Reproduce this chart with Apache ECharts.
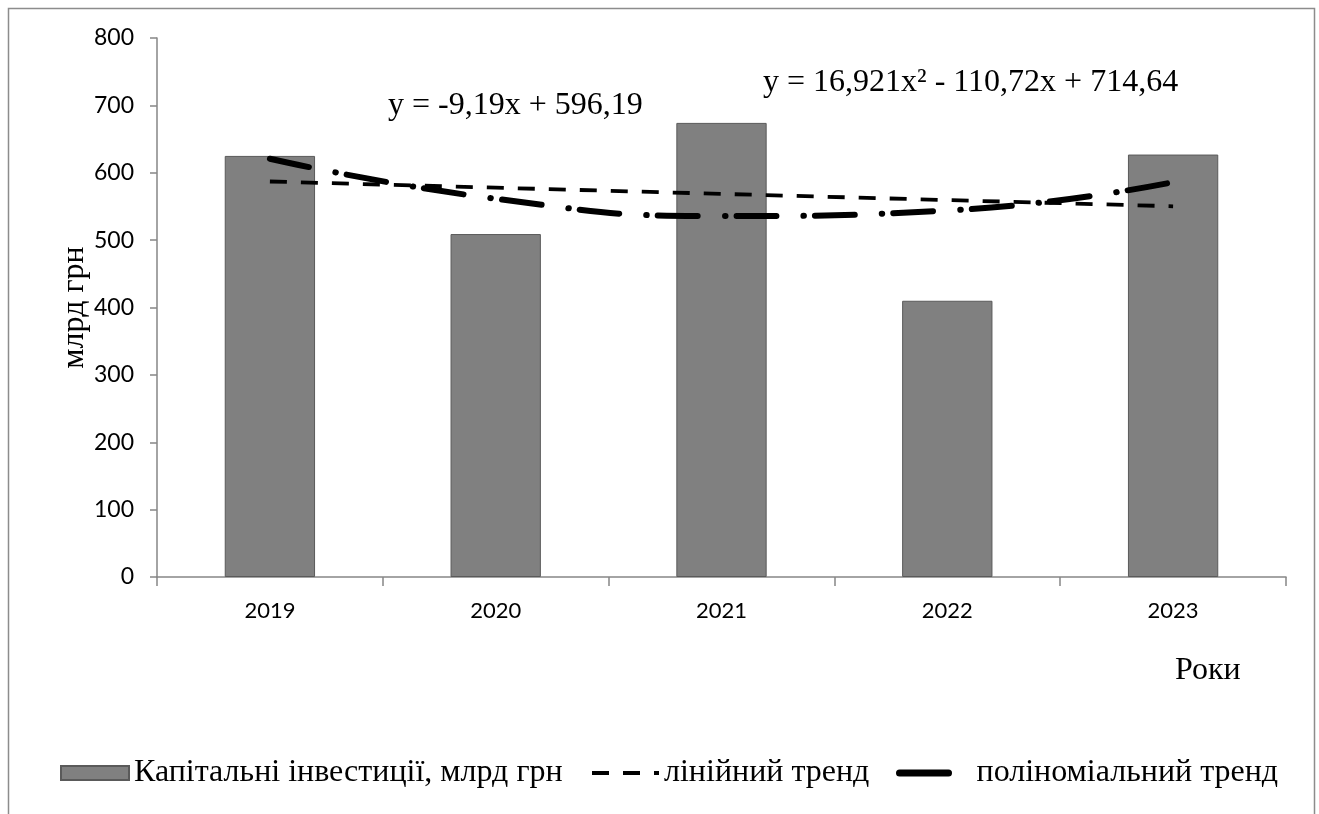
<!DOCTYPE html>
<html>
<head>
<meta charset="utf-8">
<script src="https://cdn.jsdelivr.net/npm/echarts@6/dist/echarts.min.js"></script>
<style>
  html, body { margin: 0; padding: 0; background: #fff; }
  #chart { width: 1319px; height: 814px; }
</style>
</head>
<body>
<div id="chart"></div>
<script>
// Роки
const years = ['2019', '2020', '2021', '2022', '2023'];
// Капітальні інвестиції, млрд грн
const investments = [625, 509, 674, 410, 627];
// лінійний тренд: y = -9,19x + 596,19
const linearTrend = [587.0, 577.81, 568.62, 559.43, 550.24];
// поліноміальний тренд: y = 16,921x² - 110,72x + 714,64
const polyTrend = [620.84, 561.36, 535.72, 543.92, 585.97];
// Y axis ticks
const yTicks = { min: 0, max: 800, interval: 100 };

const serif = '"Liberation Serif", "Times New Roman", serif';
const sans = 'Lato, Calibri, "Open Sans", sans-serif';
const axisGray = '#868686';

const chart = echarts.init(document.getElementById('chart'), null, { renderer: 'canvas' });

const legendText = { fontFamily: serif, fontSize: 32, color: '#000' };
const hiddenSymbol = { opacity: 0 };

chart.setOption({
  animation: false,
  backgroundColor: '#fff',
  grid: { left: 157, right: 33, top: 38, bottom: 237, containLabel: false },
  xAxis: {
    type: 'category',
    data: years,
    boundaryGap: true,
    axisLine: { lineStyle: { color: axisGray, width: 1.5 } },
    axisTick: { show: true, length: 9, lineStyle: { color: axisGray, width: 1.5 } },
    axisLabel: { fontFamily: sans, fontSize: 22, color: '#000', margin: 23 },
    splitLine: { show: false }
  },
  yAxis: {
    type: 'value',
    min: yTicks.min,
    max: yTicks.max,
    interval: yTicks.interval,
    name: 'млрд грн',
    nameLocation: 'middle',
    nameGap: 66,
    nameMoveOverlap: false,
    nameRotate: 90,
    nameTextStyle: { fontFamily: serif, fontSize: 32, color: '#000' },
    axisLine: { show: true, lineStyle: { color: axisGray, width: 1.5 } },
    axisTick: { show: true, length: 7, lineStyle: { color: axisGray, width: 1.5 } },
    axisLabel: { fontFamily: sans, fontSize: 23, color: '#000', margin: 23 },
    splitLine: { show: false }
  },
  legend: [
    {
      data: ['Капітальні інвестиції, млрд грн'],
      left: 60, top: 757, padding: 0,
      icon: 'rect',
      itemWidth: 68, itemHeight: 14,
      textStyle: legendText
    },
    {
      data: ['лінійний тренд'],
      left: 590, top: 757, padding: 0,
      itemWidth: 67, itemHeight: 14,
      itemStyle: hiddenSymbol,
      lineStyle: { width: 4, cap: 'butt' },
      textStyle: legendText
    },
    {
      data: ['поліноміальний тренд'],
      left: 896, top: 757, padding: 0,
      itemWidth: 49, itemHeight: 14,
      itemStyle: hiddenSymbol,
      lineStyle: { type: 'solid', width: 7, cap: 'round' },
      textStyle: Object.assign({ padding: [0, 0, 0, 23] }, legendText)
    }
  ],
  series: [
    {
      name: 'Капітальні інвестиції, млрд грн',
      type: 'bar',
      data: investments,
      barWidth: '40%',
      itemStyle: { color: '#808080', borderColor: '#5a5a5a', borderWidth: 1 }
    },
    {
      name: 'лінійний тренд',
      type: 'line',
      data: linearTrend,
      symbol: 'none',
      z: 3,
      itemStyle: { color: '#000' },
      lineStyle: { color: '#000', width: 3.8, type: [17, 14], cap: 'butt' }
    },
    {
      name: 'поліноміальний тренд',
      type: 'line',
      data: polyTrend,
      symbol: 'none',
      smooth: 0.5,
      z: 4,
      itemStyle: { color: '#000' },
      lineStyle: { color: '#000', width: 6, type: [40, 27, 0.5, 11], cap: 'round' }
    }
  ],
  graphic: [
    {
      type: 'rect',
      silent: true,
      shape: { x: 8.5, y: 8.5, width: 1306, height: 900 },
      style: { fill: 'none', stroke: '#8c8c8c', lineWidth: 1.5 }
    },
    {
      type: 'text',
      left: 388, top: 90,
      style: { text: 'y = -9,19x + 596,19', font: '32px ' + serif, fill: '#000' }
    },
    {
      type: 'text',
      left: 763, top: 67,
      style: { text: 'y = 16,921x² - 110,72x + 714,64', font: '32px ' + serif, fill: '#000' }
    },
    {
      type: 'text',
      left: 1175, top: 655,
      style: { text: 'Роки', font: '32px ' + serif, fill: '#000' }
    }
  ]
});
</script>
</body>
</html>
